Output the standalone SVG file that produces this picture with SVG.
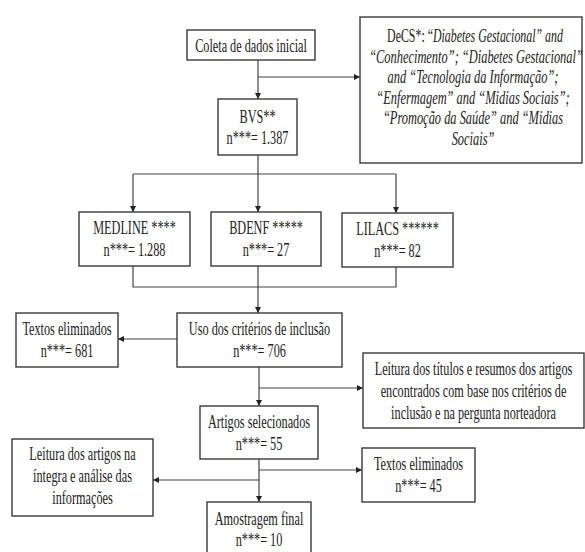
<svg xmlns="http://www.w3.org/2000/svg" width="585" height="552" viewBox="0 0 585 552">
<defs>
<style>
.box{fill:#fff;stroke:#3a3a3a;stroke-width:1.4}
.t{font-family:"Liberation Serif","Times New Roman",serif;font-size:18px;fill:#222;text-anchor:middle}
.d{font-family:"Liberation Serif","Times New Roman",serif;font-size:18px;fill:#222;text-anchor:middle}
.i{font-style:italic}
.c{fill:none;stroke:#444;stroke-width:1.2}
</style>
<marker id="ah" viewBox="0 0 10 10" refX="10" refY="5" markerWidth="6" markerHeight="6" markerUnits="userSpaceOnUse" orient="auto">
<path d="M0,0 L10,5 L0,10 z" fill="#222"/>
</marker>
</defs>
<rect width="585" height="552" fill="#fff"/>
<g id="connectors">
<path class="c" d="M258,60 V99" marker-end="url(#ah)"/>
<path class="c" d="M258,77 H360" marker-end="url(#ah)"/>
<path class="c" d="M258,155 V174 M133,174 H396"/>
<path class="c" d="M133,174 V212" marker-end="url(#ah)"/>
<path class="c" d="M258,174 V212" marker-end="url(#ah)"/>
<path class="c" d="M396,174 V213" marker-end="url(#ah)"/>
<path class="c" d="M133,266 V287 H396 V267"/>
<path class="c" d="M258,266 V313" marker-end="url(#ah)"/>
<path class="c" d="M177,339 H118" marker-end="url(#ah)"/>
<path class="c" d="M259,367 V406" marker-end="url(#ah)"/>
<path class="c" d="M259,388 H363" marker-end="url(#ah)"/>
<path class="c" d="M259,459 V502" marker-end="url(#ah)"/>
<path class="c" d="M259,470 H362" marker-end="url(#ah)"/>
<path class="c" d="M259,480 H153" marker-end="url(#ah)"/>
</g>
<g id="coleta">
<rect class="box" x="187" y="30" width="128" height="30"/>
<text class="t" transform="translate(251,52) scale(0.68,1)">Coleta de dados inicial</text>
</g>
<g id="decs">
<rect class="box" x="360" y="17" width="222" height="146"/>
<text class="d" transform="translate(475,42) scale(0.66,1)">DeCS*: “<tspan class="i">Diabetes Gestacional” and</tspan></text>
<text class="d i" transform="translate(476,62.5) scale(0.69,1)">“Conhecimento”; “Diabetes Gestacional”</text>
<text class="d i" transform="translate(473,83) scale(0.69,1)">and “Tecnologia da Informação”;</text>
<text class="d i" transform="translate(473,103.5) scale(0.69,1)">“Enfermagem” and “Midias Sociais”;</text>
<text class="d i" transform="translate(473,124) scale(0.69,1)">“Promoção da Saúde” and “Midias</text>
<text class="d i" transform="translate(473,145) scale(0.69,1)">Sociais”</text>
</g>
<g id="bvs">
<rect class="box" x="218" y="99" width="79" height="56"/>
<text class="t" transform="translate(257.5,122.5) scale(0.68,1)">BVS**</text>
<text class="t" transform="translate(257.5,143.5) scale(0.68,1)">n***= 1.387</text>
</g>
<g id="medline">
<rect class="box" x="79" y="212" width="111" height="54"/>
<text class="t" transform="translate(134.5,234) scale(0.68,1)">MEDLINE ****</text>
<text class="t" transform="translate(134.5,256) scale(0.68,1)">n***= 1.288</text>
</g>
<g id="bdenf">
<rect class="box" x="211" y="212" width="110" height="54"/>
<text class="t" transform="translate(266,234) scale(0.68,1)">BDENF *****</text>
<text class="t" transform="translate(266,256) scale(0.68,1)">n***= 27</text>
</g>
<g id="lilacs">
<rect class="box" x="342" y="213" width="111" height="54"/>
<text class="t" transform="translate(397.5,235) scale(0.68,1)">LILACS ******</text>
<text class="t" transform="translate(397.5,257) scale(0.68,1)">n***= 82</text>
</g>
<g id="uso">
<rect class="box" x="177" y="313" width="165" height="54"/>
<text class="t" transform="translate(259.5,335) scale(0.68,1)">Uso dos critérios de inclusão</text>
<text class="t" transform="translate(259.5,357) scale(0.68,1)">n***= 706</text>
</g>
<g id="textos1">
<rect class="box" x="16" y="313" width="102" height="54"/>
<text class="t" transform="translate(67,335) scale(0.68,1)">Textos eliminados</text>
<text class="t" transform="translate(67,357) scale(0.68,1)">n***= 681</text>
</g>
<g id="leitura-titulos">
<rect class="box" x="363" y="353" width="221" height="75"/>
<text class="t" transform="translate(473.5,374.5) scale(0.68,1)">Leitura dos títulos e resumos dos artigos</text>
<text class="t" transform="translate(473.5,396.5) scale(0.68,1)">encontrados com base nos critérios de</text>
<text class="t" transform="translate(473.5,418.5) scale(0.68,1)">inclusão e na pergunta norteadora</text>
</g>
<g id="artigos">
<rect class="box" x="200" y="406" width="118" height="53"/>
<text class="t" transform="translate(259,428) scale(0.68,1)">Artigos selecionados</text>
<text class="t" transform="translate(259,450) scale(0.68,1)">n***= 55</text>
</g>
<g id="textos2">
<rect class="box" x="362" y="448" width="113" height="54"/>
<text class="t" transform="translate(418.5,470) scale(0.68,1)">Textos eliminados</text>
<text class="t" transform="translate(418.5,492) scale(0.68,1)">n***= 45</text>
</g>
<g id="leitura-artigos">
<rect class="box" x="12" y="439" width="141" height="77"/>
<text class="t" transform="translate(82.5,460) scale(0.68,1)">Leitura dos artigos na</text>
<text class="t" transform="translate(82.5,482) scale(0.68,1)">íntegra e análise das</text>
<text class="t" transform="translate(82.5,504) scale(0.68,1)">informações</text>
</g>
<g id="amostragem">
<rect class="box" x="207" y="502" width="104" height="56"/>
<text class="t" transform="translate(259,525) scale(0.68,1)">Amostragem final</text>
<text class="t" transform="translate(259,546) scale(0.68,1)">n***= 10</text>
</g>
</svg>
